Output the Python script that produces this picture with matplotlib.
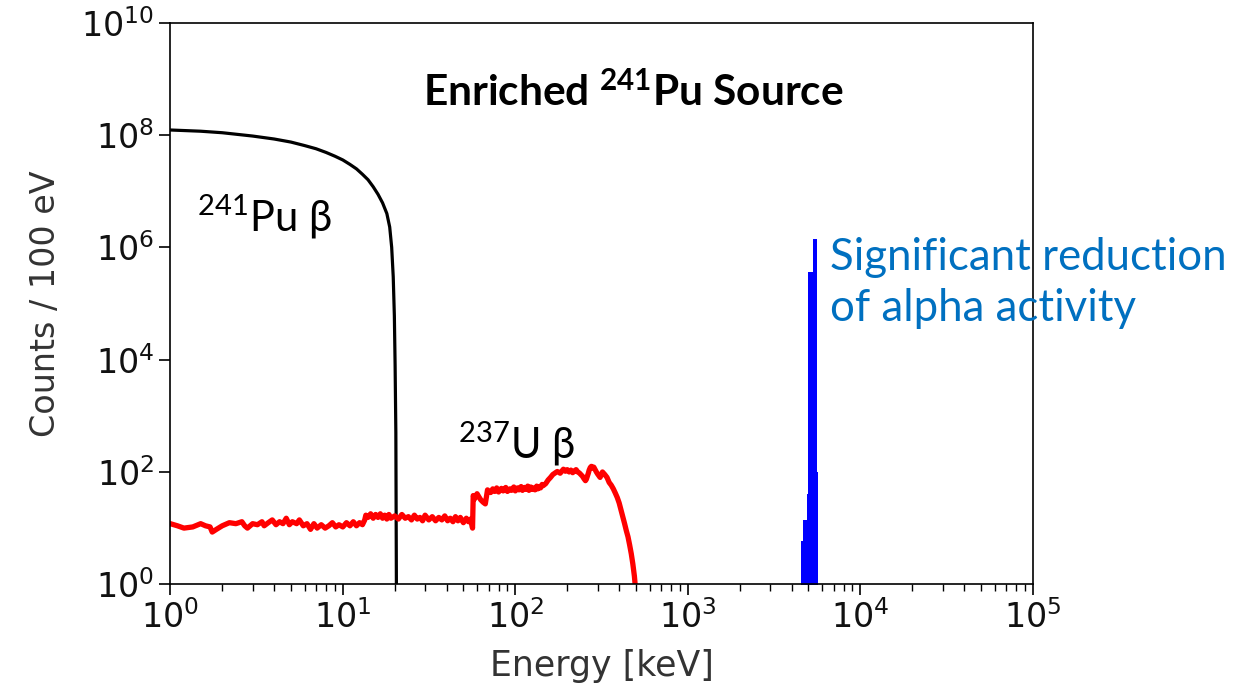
import matplotlib
matplotlib.use("Agg")
import matplotlib.pyplot as plt
import matplotlib.ticker as ticker

# 241Pu beta spectrum (black)
pu_energy = [1.0, 1.5, 2.0, 3.0, 4.0, 5.0, 6.0, 7.0, 8.0, 9.0, 10.0, 11.0, 12.0, 13.0, 14.0,
             15.0, 16.0, 17.0, 18.0, 18.7, 19.2, 19.6, 19.9, 20.1, 20.3, 20.5]
pu_counts = [1.23e8, 1.17e8, 1.1e8, 9.6e7, 8.5e7, 7.5e7, 6.5e7, 5.7e7, 4.9e7, 4.2e7, 3.6e7,
             3.0e7, 2.5e7, 2.0e7, 1.6e7, 1.2e7, 8.8e6, 6.2e6, 4.0e6, 2.3e6, 1.0e6, 3.0e5,
             6.0e4, 8.0e3, 5.0e2, 0.1]

# 237U beta spectrum (red)
u_energy = [1.0, 1.1, 1.2, 1.35, 1.5, 1.6, 1.7, 1.75, 1.85, 2.0,
            2.2, 2.4, 2.6, 2.7, 2.8, 3.0, 3.2, 3.4, 3.5, 3.7,
            3.9, 4.1, 4.3, 4.5, 4.7, 4.9, 5.1, 5.4, 5.6, 5.9,
            6.2, 6.5, 6.8, 7.1, 7.5, 7.9, 8.3, 8.7, 9.1, 9.5,
            10, 10.5, 11, 11.5, 12, 12.5, 13, 13.4, 13.6, 14,
            14.5, 15, 15.5, 16, 16.5, 17, 17.5, 18, 18.5, 19,
            20, 21, 22, 23, 24, 25, 26, 27, 28, 29,
            30, 31.5, 33, 34.5, 36, 37.5, 39, 40.5, 42, 43.5,
            45, 46.5, 48, 50, 52, 53.5, 55, 56.5, 57, 58,
            60, 61.5, 63, 65, 67, 69, 72, 74, 76, 78,
            80, 83, 85, 88, 90, 93, 95, 98, 100, 103,
            105, 108, 110, 113, 115, 118, 120, 123, 125, 128,
            130, 133, 135, 138, 140, 143, 145, 150, 155, 160,
            165, 170, 175, 182, 190, 195, 200, 205, 210, 215,
            220, 225, 230, 235, 240, 245, 250, 255, 258, 262,
            265, 268, 272, 276, 280, 285, 290, 295, 300, 310,
            320, 330, 340, 350, 360, 370, 380, 390, 400, 410,
            420, 430, 440, 450, 460, 470, 480, 490, 500]
u_counts = [12, 11, 10, 10.5, 12, 11, 10.5, 8.5, 9.5, 11,
            12.5, 12, 13, 11, 10, 12, 11.5, 13, 11, 12.5,
            14, 11.5, 13, 12, 15, 11.5, 13, 12, 14, 11,
            12, 9.5, 12, 10, 11.5, 10, 11, 12.5, 10.5, 11.5,
            10.5, 12.5, 11, 13, 11, 12.5, 11.5, 14, 17, 15.5,
            18, 15, 17.5, 15.5, 18, 15, 17, 14.5, 17.5, 15,
            16.5, 14.5, 17.5, 15, 16, 14, 17, 14.5, 15.5, 13.5,
            17, 14, 16, 13.5, 15.5, 14, 16.5, 13.5, 15, 13,
            16, 13.5, 15.5, 12.5, 15, 13, 14.5, 10, 38, 33,
            41, 36, 32, 29, 27, 48, 43, 50, 45, 52,
            44, 51, 46, 53, 45, 50, 47, 54, 46, 52,
            48, 55, 47, 53, 49, 56, 47, 54, 49, 52,
            48, 56, 50, 55, 52, 60, 57, 62, 72, 80,
            90, 96, 102, 95, 112, 103, 110, 100, 108, 97,
            104, 110, 100, 96, 90, 84, 76, 70, 74, 85,
            95, 108, 120, 126, 118, 122, 110, 100, 92, 80,
            100, 90, 80, 65, 58, 50, 42, 35, 28, 21,
            16, 12, 9, 7, 5, 3.5, 2.3, 1.4, 0.7]

# alpha peaks (blue), step edges
alpha_edges = [4540, 4680, 4890, 4960, 5310, 5570, 5660]
alpha_counts = [6, 14, 40, 3.7e5, 1.4e6, 100]

plt.rcParams['mathtext.fontset'] = 'custom'
plt.rcParams['mathtext.rm'] = 'Lato'
plt.rcParams['mathtext.bf'] = 'Lato:bold'
plt.rcParams['mathtext.it'] = 'Lato:italic'

fig = plt.figure(figsize=(12.34, 6.89), dpi=100)
ax = fig.add_axes([0.138, 0.152, 0.699, 0.815])

ax.plot(pu_energy, pu_counts, color='black', linewidth=2.3)
ax.plot(u_energy, u_counts, color='red', linewidth=3.8)

steps_y = alpha_counts + [alpha_counts[-1]]
ax.fill_between(alpha_edges, steps_y, 0.1, step='post', color='blue', linewidth=0)

ax.set_xscale('log')
ax.set_yscale('log')
ax.set_xlim(1, 1e5)
ax.set_ylim(1, 1e10)
ax.yaxis.set_major_locator(ticker.FixedLocator([1e0, 1e2, 1e4, 1e6, 1e8, 1e10]))
ax.yaxis.set_minor_locator(ticker.NullLocator())
ax.xaxis.set_major_locator(ticker.LogLocator(base=10, numticks=10))
ax.xaxis.set_minor_locator(ticker.LogLocator(base=10, subs=range(2, 10), numticks=20))

ax.tick_params(which='major', labelsize=24, length=8, width=1.2, color='black',
               labelcolor='#111111')
ax.tick_params(which='minor', length=5, width=1.0)
for s in ax.spines.values():
    s.set_linewidth(1.2)

ax.set_xlabel('Energy [keV]', fontsize=25, color='#333333', labelpad=10)
ax.set_ylabel('Counts / 100 eV', fontsize=24, color='#333333', labelpad=14)

fam = ['Lato', 'DejaVu Sans']
fig.text(0.513, 0.866, r'Enriched $\mathbf{^{241}}$Pu Source', fontsize=30.5, fontweight='bold',
         family=fam, ha='center', va='center')
fig.text(0.160, 0.685, r'$^{241}$Pu β', fontsize=30, family=fam, ha='left', va='center')
fig.text(0.371, 0.355, r'$^{237}$U β', fontsize=30, family=fam, ha='left', va='center')
fig.text(0.673, 0.589, 'Significant reduction\nof alpha activity', fontsize=31.5, family=fam,
         color='#0070C0', ha='left', va='center', linespacing=1.3)

fig.savefig('out.png', dpi=100)
